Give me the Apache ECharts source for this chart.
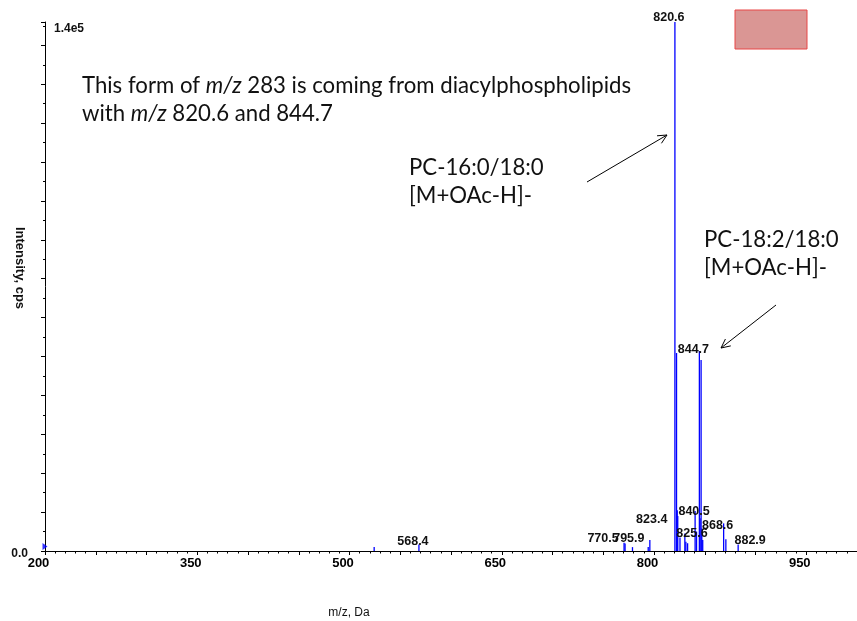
<!DOCTYPE html>
<html><head><meta charset="utf-8">
<script src="https://cdn.jsdelivr.net/npm/echarts@6/dist/echarts.min.js"></script>
<style>html,body{margin:0;padding:0;background:#fff;overflow:hidden;width:857px;height:621px}#c{width:860px;height:621px}</style>
</head><body><div id="c"></div>
<script>
// ---- data ----
const peakMz = [524.3, 568.4, 770.5, 771.5, 778.8, 794.3, 795.9, 820.6, 822.2, 822.9, 823.4, 825.6, 830.4, 831.4, 833.1,
                840.5, 841.9, 844.7, 845.4, 846.4, 847.1, 848.0, 868.6, 870.8, 882.9];
const peakIntensity = [1000, 1700, 2100, 1900, 1000, 1000, 2800, 136000, 50900, 10500, 9000, 3500, 4500, 2400, 2000,
                       10300, 5000, 51400, 8400, 49100, 5800, 2800, 7100, 3000, 1700];
const labeledMz = [568.4, 770.5, 795.9, 820.6, 823.4, 825.6, 840.5, 844.7, 868.6, 882.9];
const xTickLabels = ['200', '350', '500', '650', '800', '950'];
const yTickLabels = ['0.0', '1.4e5'];
const markerPoints = [[200, 1150]];

// ---- chart ----
const chart = echarts.init(document.getElementById('c'), null, {renderer: 'canvas'});
const AX = '"Liberation Sans", Arial, sans-serif';
const NOTE = 'Lato, "Open Sans", sans-serif';
const BLUE = '#0000ff';

const labelOffsets = {
  '568.4': [-6, -3], '770.5': [-21, -4], '795.9': [-21, -2], '820.6': [-6, -4], '823.4': [-26, 4],
  '825.6': [12, -4], '840.5': [-1, 1], '844.7': [-6, -2], '868.6': [-6, 2], '882.9': [12, -4]
};

const stickData = peakMz.map((m, i) => [m, peakIntensity[i]]);
const labelData = labeledMz.map(m => [m, peakIntensity[peakMz.indexOf(m)]]);

function arrow(x1, y1, x2, y2) {
  const a = Math.atan2(y2 - y1, x2 - x1), L = 10, s = 0.45;
  const st = {stroke: '#000', lineWidth: 1, fill: null};
  return [
    {type: 'line', shape: {x1, y1, x2, y2}, style: st},
    {type: 'polyline', shape: {points: [
      [x2 - L * Math.cos(a - s), y2 - L * Math.sin(a - s)], [x2, y2],
      [x2 - L * Math.cos(a + s), y2 - L * Math.sin(a + s)]]}, style: st}
  ];
}
const noteRich = {
  n: {fontFamily: NOTE, fontSize: 22.2, fill: '#111'},
  i: {fontFamily: NOTE, fontSize: 22.2, fontStyle: 'italic', fill: '#111'}
};
function note(x, y, text) {
  return {type: 'text', x, y, style: {text, rich: noteRich, verticalAlign: 'middle', align: 'left'}};
}

const option = {
  animation: false,
  backgroundColor: '#fff',
  grid: {left: 45, top: 22, width: 815, height: 529, containLabel: false},
  xAxis: {
    type: 'value', min: 200, max: 1000, interval: 50,
    axisLine: {show: true, lineStyle: {color: '#000', width: 1}},
    axisTick: {show: true, length: 4, lineStyle: {color: '#000'}},
    minorTick: {show: true, splitNumber: 5, length: 2.5, lineStyle: {color: '#000'}},
    splitLine: {show: false},
    axisLabel: {
      margin: 6, fontFamily: AX, fontWeight: 'bold', fontSize: 13, color: '#000',
      padding: [0, 13, 0, 0],
      formatter: v => xTickLabels.includes(String(v)) ? String(v) : ''
    }
  },
  yAxis: {
    type: 'value', min: 0, max: 136000, interval: 10000,
    axisLine: {show: true, lineStyle: {color: '#000', width: 1}},
    axisTick: {show: true, length: 4, lineStyle: {color: '#000'}},
    minorTick: {show: true, splitNumber: 2, length: 2, lineStyle: {color: '#000'}},
    splitLine: {show: false},
    axisLabel: {show: false}
  },
  series: [
    {
      type: 'bar', name: 'sticks', data: stickData, barWidth: 1.3,
      itemStyle: {color: BLUE, borderWidth: 0}, silent: true,
      emphasis: {disabled: true}
    },
    {
      type: 'custom', name: 'labels', data: labelData, clip: false, z: 5, silent: true,
      renderItem(params, api) {
        const m = api.value(0);
        const p = api.coord([m, api.value(1)]);
        const t = m.toFixed(1);
        const o = labelOffsets[t] || [0, -8];
        return {type: 'text', x: p[0] + o[0], y: p[1] + o[1],
                style: {text: t, fontFamily: AX, fontWeight: 'bold', fontSize: 12.5, fill: '#111',
                        align: 'center', verticalAlign: 'middle'}};
      }
    },
    {
      type: 'scatter', data: markerPoints, symbol: 'triangle', symbolSize: [7, 5], symbolRotate: -90,
      itemStyle: {color: BLUE}, silent: true, z: 6
    }
  ],
  graphic: [
    {type: 'text', x: 28, y: 554, style: {text: yTickLabels[0], fontFamily: AX, fontWeight: 'bold', fontSize: 12,
      fill: '#111', align: 'right', verticalAlign: 'middle'}},
    {type: 'text', x: 54, y: 29, style: {text: yTickLabels[1], fontFamily: AX, fontWeight: 'bold', fontSize: 12,
      fill: '#111', align: 'left', verticalAlign: 'middle'}},
    {type: 'text', x: 20, y: 268, rotation: -Math.PI / 2, style: {text: 'Intensity, cps', fontFamily: AX,
      fontWeight: 'bold', fontSize: 13, fill: '#111', align: 'center', verticalAlign: 'middle'}},
    {type: 'text', x: 349, y: 613, style: {text: 'm/z, Da', fontFamily: AX, fontSize: 12, fill: '#111',
      align: 'center', verticalAlign: 'middle'}},
    {type: 'rect', shape: {x: 735, y: 10, width: 72, height: 39},
      style: {fill: 'rgb(218,150,148)', stroke: 'rgb(232,70,70)', lineWidth: 1}},
    note(82, 86, '{n|This form of }{i|m/z}{n| 283 is coming from diacylphospholipids}'),
    note(82, 114, '{n|with }{i|m/z}{n| 820.6 and 844.7}'),
    note(409, 168, '{n|PC-16:0/18:0}'),
    note(409, 196, '{n|[M+OAc-H]-}'),
    note(704, 240, '{n|PC-18:2/18:0}'),
    note(704, 268, '{n|[M+OAc-H]-}'),
    ...arrow(587, 182, 667, 135),
    ...arrow(776, 305, 721, 348)
  ]
};
chart.setOption(option);
</script>
</body></html>
